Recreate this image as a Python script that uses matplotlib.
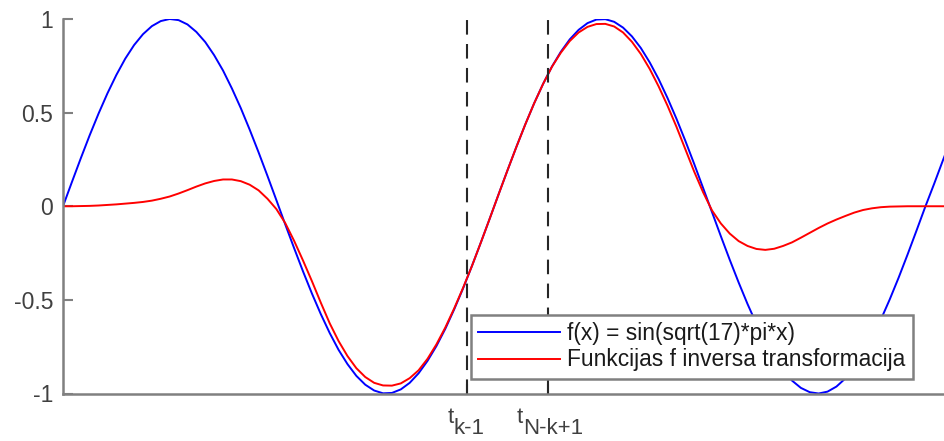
import matplotlib
matplotlib.use("Agg")
import matplotlib.pyplot as plt
from matplotlib.transforms import blended_transform_factory

plt.rcParams['font.family'] = ['Liberation Sans', 'DejaVu Sans']

# valores (paso 0.01 en x)
x = [0.00, 0.01, 0.02, 0.03, 0.04, 0.05, 0.06, 0.07, 0.08, 0.09,
     0.10, 0.11, 0.12, 0.13, 0.14, 0.15, 0.16, 0.17, 0.18, 0.19,
     0.20, 0.21, 0.22, 0.23, 0.24, 0.25, 0.26, 0.27, 0.28, 0.29,
     0.30, 0.31, 0.32, 0.33, 0.34, 0.35, 0.36, 0.37, 0.38, 0.39,
     0.40, 0.41, 0.42, 0.43, 0.44, 0.45, 0.46, 0.47, 0.48, 0.49,
     0.50, 0.51, 0.52, 0.53, 0.54, 0.55, 0.56, 0.57, 0.58, 0.59,
     0.60, 0.61, 0.62, 0.63, 0.64, 0.65, 0.66, 0.67, 0.68, 0.69,
     0.70, 0.71, 0.72, 0.73, 0.74, 0.75, 0.76, 0.77, 0.78, 0.79,
     0.80, 0.81, 0.82, 0.83, 0.84, 0.85, 0.86, 0.87, 0.88, 0.89,
     0.90, 0.91, 0.92, 0.93, 0.94, 0.95, 0.96, 0.97, 0.98, 0.99, 1.00]

f_orig = [0.000, 0.129, 0.256, 0.379, 0.495, 0.603, 0.701, 0.788, 0.861, 0.919,
          0.962, 0.989, 1.000, 0.994, 0.971, 0.931, 0.877, 0.807, 0.725, 0.629,
          0.524, 0.409, 0.288, 0.162, 0.033, -0.097, -0.224, -0.348, -0.466, -0.576,
          -0.677, -0.767, -0.843, -0.906, -0.953, -0.984, -0.999, -0.997, -0.978, -0.943,
          -0.892, -0.826, -0.747, -0.655, -0.551, -0.439, -0.319, -0.194, -0.066, 0.064,
          0.192, 0.317, 0.437, 0.550, 0.653, 0.746, 0.825, 0.891, 0.942, 0.978,
          0.997, 0.999, 0.985, 0.954, 0.907, 0.845, 0.768, 0.679, 0.578, 0.468,
          0.350, 0.226, 0.098, -0.031, -0.160, -0.286, -0.407, -0.522, -0.628, -0.723,
          -0.806, -0.876, -0.931, -0.970, -0.993, -1.000, -0.990, -0.963, -0.920, -0.862,
          -0.789, -0.704, -0.605, -0.497, -0.381, -0.258, -0.131, -0.002, 0.121, 0.248, 0.371]

f_inv = [0.000, 0.000, 0.001, 0.002, 0.004, 0.007, 0.010, 0.014, 0.018, 0.023,
         0.030, 0.040, 0.052, 0.068, 0.086, 0.105, 0.122, 0.135, 0.143, 0.143,
         0.134, 0.115, 0.085, 0.040, -0.015, -0.090, -0.185, -0.290, -0.400, -0.515,
         -0.625, -0.720, -0.800, -0.865, -0.912, -0.943, -0.957, -0.958, -0.946, -0.918,
         -0.876, -0.815, -0.738, -0.648, -0.546, -0.436, -0.319, -0.194, -0.066, 0.064,
         0.192, 0.317, 0.437, 0.550, 0.653, 0.745, 0.820, 0.882, 0.928, 0.958,
         0.973, 0.974, 0.960, 0.928, 0.878, 0.813, 0.733, 0.640, 0.537, 0.425,
         0.305, 0.185, 0.075, -0.022, -0.092, -0.146, -0.186, -0.212, -0.228, -0.233,
         -0.227, -0.212, -0.193, -0.168, -0.142, -0.116, -0.092, -0.071, -0.052, -0.034,
         -0.020, -0.011, -0.005, -0.002, -0.001, 0.000, 0.000, 0.000, 0.000, 0.000, 0.000]

t_pos = [0.4545, 0.5455]
t_sub = ['k-1', 'N-k+1']
y_ticks = [-1, -0.5, 0, 0.5, 1]
y_lab = ['-1', '-0.5', '0', '0.5', '1']

fig = plt.figure(figsize=(9.45, 4.41), dpi=100)
ax = fig.add_axes([63/945, 1 - 393.5/441, (952 - 63)/945, (393.5 - 19)/441])

ax.plot(x, f_orig, color='#0000ff', lw=1.4, label='f(x) = sin(sqrt(17)*pi*x)')
ax.plot(x, f_inv, color='#ff0000', lw=1.4, label='Funkcijas f inversa transformacija')
for t in t_pos:
    ax.axvline(t, color='#262626', lw=1.5, dashes=(7, 4.5))

ax.set_xlim(0, 1)
ax.set_ylim(-1, 1)
ax.set_xticks(t_pos)
ax.set_xticklabels(['', ''])
ax.set_yticks(y_ticks)
ax.set_yticklabels(y_lab)

# etiquetas t_{...} con subindice del mismo tamaño
trans = blended_transform_factory(ax.transData, ax.transAxes)
split = [-9.5, -18.0]
for t, sub, dx in zip(t_pos, t_sub, split):
    ax.annotate('t', xy=(t, 0), xycoords=trans, xytext=(dx, -21),
                textcoords='offset points', ha='right', va='baseline',
                fontsize=16, color='#404040', annotation_clip=False)
    ax.annotate(sub, xy=(t, 0), xycoords=trans, xytext=(dx, -29),
                textcoords='offset points', ha='left', va='baseline',
                fontsize=16, color='#404040', annotation_clip=False)

for s in ['top', 'right']:
    ax.spines[s].set_visible(False)
for s in ['left', 'bottom']:
    ax.spines[s].set_color('#808080')
    ax.spines[s].set_linewidth(1.8)
ax.tick_params(direction='in', length=7, width=1.5, color='#808080',
               labelcolor='#404040', labelsize=16.5, pad=7)

leg = ax.legend(loc='lower right', bbox_to_anchor=(913/945, 1 - 379/441),
                bbox_transform=fig.transFigure, borderaxespad=0, fancybox=False,
                framealpha=1, edgecolor='#808080', fontsize=16.4, handlelength=3.6,
                handletextpad=0.3, labelspacing=0.15, borderpad=0.33)
leg.get_frame().set_linewidth(1.8)
leg.set_zorder(5)
for txt in leg.get_texts():
    txt.set_color('#1a1a1a')

fig.savefig('out.png', dpi=100)
